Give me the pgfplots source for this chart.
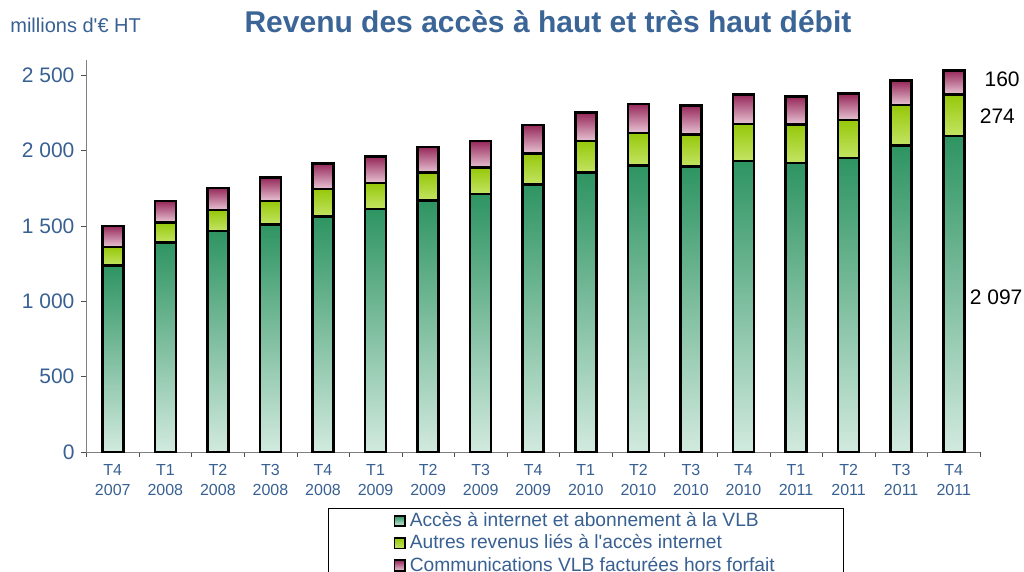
\documentclass[border=0pt]{standalone}
\usepackage{fontspec}
\setmainfont{Liberation Sans}
\usepackage{pgfplots}
\usepackage{pgfplotstable}
\pgfplotsset{compat=1.18}

\definecolor{txtblue}{RGB}{56,96,146}
\definecolor{titleblue}{RGB}{58,101,150}
\definecolor{gTop}{RGB}{46,148,98}
\definecolor{gBot}{RGB}{210,234,223}
\definecolor{yTop}{RGB}{150,200,10}
\definecolor{yBot}{RGB}{196,228,100}
\definecolor{pTop}{RGB}{150,40,90}
\definecolor{pBot}{RGB}{232,196,212}

% millions d'euros HT, par trimestre
\pgfplotstableread{
x  acces autres comm
0  1235  125  140
1  1388  135  141
2  1467  137  148
3  1510  154  155
4  1560  184  170
5  1613  170  175
6  1669  183  172
7  1711  174  177
8  1773  207  188
9  1852  210  188
10 1901  216  192
11 1892  214  192
12 1931  244  196
13 1916  257  183
14 1949  252  175
15 2031  270  161
16 2097  274  160
}\revdata

% each segment is drawn as its own shaded node (placed at the segment's middle),
% so the gradient runs per bar; 196pt axis height / 2600 units = 0.0753846pt per unit
\pgfplotsset{
  seg/.style 2 args={draw=none, fill=none,
    nodes near coords=\mbox{},
    every node near coord/.style={anchor=center, inner sep=0pt,
      minimum width=10.5pt, minimum height={\segh*0.0753846pt},
      draw=black, line width=1.3pt, top color=#1, bottom color=#2},
    legend image code/.code={\draw[draw=black, line width=0.9pt,
      top color=#1, bottom color=#2] (0pt,-2.6pt) rectangle (5.2pt,2.6pt);}},
}

\begin{document}
\begin{tikzpicture}
\useasboundingbox (-43.25pt,-60pt) rectangle (468.75pt,226pt);
\clip (-43.25pt,-60pt) rectangle (468.75pt,226pt);
\begin{axis}[
    at={(0pt,0pt)}, anchor=south west,
    scale only axis,
    width=446.75pt, height=196pt,
    ybar stacked,
    bar width=10.5pt,
    xmin=-0.5, xmax=16.5,
    ymin=0, ymax=2600,
    enlargelimits=false,
    axis lines=left,
    axis line style={-, draw=gray},
    tick align=outside,
    ytick={0,500,...,2500},
    major tick length=2.5pt,
    minor tick length=2.5pt,
    major y tick style={draw=gray!60!black},
    xtick={0,...,16},
    major x tick style={draw=none},
    minor xtick={-0.5,0.5,...,16.5},
    minor x tick style={draw=gray!60!black},
    xticklabels={{T4\\2007},{T1\\2008},{T2\\2008},{T3\\2008},{T4\\2008},
      {T1\\2009},{T2\\2009},{T3\\2009},{T4\\2009},{T1\\2010},{T2\\2010},
      {T3\\2010},{T4\\2010},{T1\\2011},{T2\\2011},{T3\\2011},{T4\\2011}},
    xticklabel style={font=\fontsize{8}{10}\selectfont, align=center, text=txtblue},
    yticklabel style={font=\fontsize{10.5}{12}\selectfont, text=txtblue},
    /pgf/number format/assume math mode=true,
    /pgf/number format/1000 sep={\ },
    clip=false,
    legend style={at={(0.2703,-0.1429)}, anchor=north west, draw=black,
      line width=0.6pt, inner xsep=32.5pt, inner ysep=0pt,
      font=\fontsize{9.6}{11}\selectfont, text=txtblue,
      row sep=-1.5pt,
      /tikz/every even column/.append style={column sep=0pt}},
    legend cell align=left,
]
\addplot[seg={gTop}{gBot}, visualization depends on=\thisrow{acces}\as\segh]
  table[x=x, y=acces] {\revdata};
\addplot[seg={yTop}{yBot}, visualization depends on=\thisrow{autres}\as\segh]
  table[x=x, y=autres] {\revdata};
\addplot[seg={pTop}{pBot}, visualization depends on=\thisrow{comm}\as\segh]
  table[x=x, y=comm] {\revdata};
\legend{Accès à internet et abonnement à la VLB,
  Autres revenus liés à l\textquotesingle accès internet,
  Communications VLB facturées hors forfait}
\node[anchor=base west, inner sep=0pt, font=\fontsize{10.5}{12}\selectfont] at (axis cs:16.58,2422) {160};
\node[anchor=base west, inner sep=0pt, font=\fontsize{10.5}{12}\selectfont] at (axis cs:16.49,2179) {274};
\node[anchor=base west, inner sep=0pt, font=\fontsize{10.5}{12}\selectfont] at (axis cs:16.30,975) {2 097};
\end{axis}
\node[anchor=base, font=\fontsize{15}{18}\selectfont\bfseries, text=titleblue]
  at (230.75pt,209.5pt) {Revenu des accès à haut et très haut débit};
\node[anchor=base west, font=\fontsize{10}{12}\selectfont, text=txtblue, inner sep=0pt]
  at (-38.25pt,209.8pt) {millions d\textquotesingle€ HT};
\end{tikzpicture}
\end{document}
